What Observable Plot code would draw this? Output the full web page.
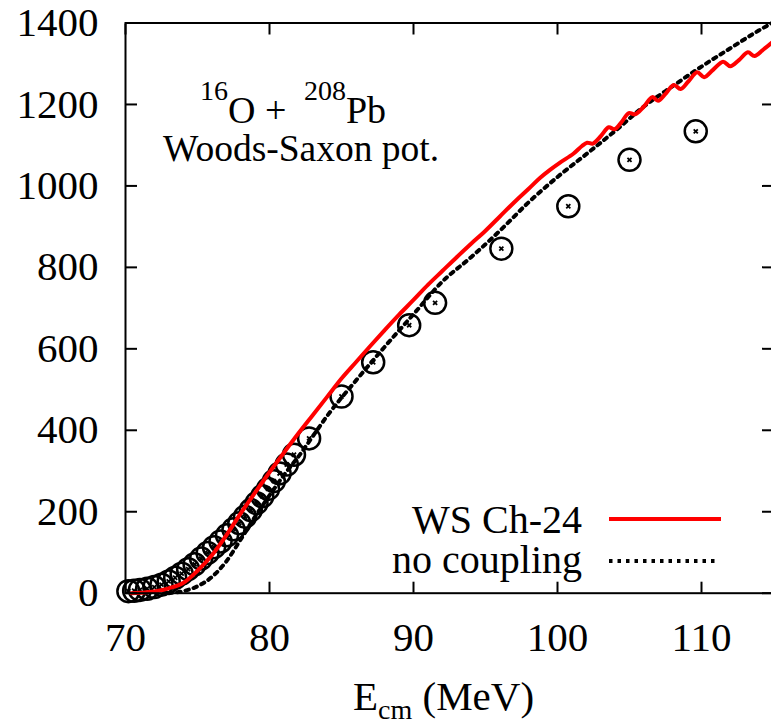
<!DOCTYPE html>
<html><head><meta charset="utf-8">
<script src="https://cdn.jsdelivr.net/npm/d3@7"></script>
<script src="https://cdn.jsdelivr.net/npm/@observablehq/plot@0.6"></script>
<style>html,body{margin:0;padding:0;background:#fff;overflow:hidden}</style>
</head><body><div id="chart"></div>
<script>
// ---- data ----
const xTicks = [70, 80, 90, 100, 110];
const yTicks = [0, 200, 400, 600, 800, 1000, 1200, 1400];

// experimental points (E_cm in MeV, cross section)
const expE = [70.2, 70.6, 71.0, 71.5, 72.0, 72.5, 73.0, 73.45, 73.9, 74.35, 74.8, 75.25, 75.7, 76.15, 76.6, 77.05, 77.5, 77.9, 78.3, 78.7, 79.1, 79.5, 79.9, 80.3, 80.7, 81.2, 81.7, 82.75, 85.0, 87.2, 89.7, 91.5, 96.1, 100.75, 105.0, 109.6];
const expSigma = [5, 6, 8, 11, 15, 21, 29, 38, 48, 59, 71, 85, 99, 113, 127, 142, 157, 172, 188, 204, 221, 238, 256, 275, 294, 316, 340, 380, 483, 567, 658, 713, 846, 950, 1064, 1134];

// WS Ch-24 calculation
const wsE = [70.4, 71, 72, 73, 74, 75, 76, 77, 78, 79, 80, 81, 82, 83, 84, 85, 86, 87, 88, 89, 90, 91, 92, 93, 94, 95, 96, 97, 98, 98.8, 99.5, 100.2, 101.1, 101.7, 102.06, 102.45, 103.0, 103.56, 103.95, 104.45, 104.95, 105.4, 106.0, 106.58, 106.98, 107.5, 108.08, 108.55, 109.1, 109.7, 110.18, 110.8, 111.5, 112.0, 112.6, 113.22, 113.68, 114.3, 115];
const wsSigma = [0, 1, 4, 12, 25, 55, 93, 142, 196, 247, 297, 345, 392, 437, 482, 527, 567, 607, 646, 684, 720, 757, 791, 825, 858, 890, 925, 960, 993, 1020, 1040, 1058, 1079, 1098, 1106, 1104, 1122, 1144, 1139, 1157, 1179, 1176, 1195, 1218, 1209, 1226, 1248, 1238, 1257, 1279, 1267, 1285, 1305, 1294, 1309, 1328, 1319, 1335, 1355];

// no coupling calculation
const ncE = [73.0, 74, 75, 76, 77, 78, 79, 80, 81, 82, 83, 84, 86, 88, 90, 92, 94, 96, 98, 100, 102, 104, 106, 108, 110, 112, 114, 115];
const ncSigma = [0, 5, 17, 40, 78, 132, 188, 240, 290, 335, 385, 435, 522, 605, 685, 765, 825, 890, 960, 1022, 1078, 1135, 1195, 1245, 1293, 1338, 1382, 1402];

const legendLabels = ["WS Ch-24", "no coupling"];
const xLabel = ["E", "cm", " (MeV)"];
const annotation = ["16", "O + ", "208", "Pb"];
const annotation2 = "Woods-Saxon pot.";

// ---- tables ----
const exp = expE.map((e, i) => ({E: e, s: expSigma[i]}));
const ws = wsE.map((e, i) => ({E: e, s: wsSigma[i]}));
const nc = ncE.map((e, i) => ({E: e, s: ncSigma[i]}));

const FONT = "'Liberation Serif', 'Times New Roman', serif";

const chart = Plot.plot({
  width: 771,
  height: 724,
  marginLeft: 125,
  marginRight: -2,
  marginTop: 22.5,
  marginBottom: 131.3,
  style: {fontFamily: FONT, fontSize: "41px", background: "#fff", color: "#000", overflow: "hidden"},
  x: {domain: [70, 115]},
  y: {domain: [0, 1400]},
  marks: [
    Plot.dot(exp, {x: "E", y: "s", r: 11, stroke: "#000", strokeWidth: 2.5, fill: "none"}),
    Plot.dot(exp, {x: "E", y: "s", r: 2, symbol: "times", stroke: "#000", strokeWidth: 1.8}),
    Plot.line(nc, {x: "E", y: "s", stroke: "#000", strokeWidth: 4, strokeDasharray: "3.5,5", curve: "monotone-x"}),
    Plot.line(ws, {x: "E", y: "s", stroke: "#ff0000", strokeWidth: 4, curve: "catmull-rom"}),
    Plot.frame({stroke: "#000", strokeWidth: 2}),
    // inward ticks on all sides
    Plot.axisX({anchor: "bottom", ticks: xTicks, tickSize: -11, fill: "none", stroke: "#000", strokeWidth: 2, label: null}),
    Plot.axisX({anchor: "top", ticks: xTicks, tickSize: -11, fill: "none", stroke: "#000", strokeWidth: 2, label: null}),
    Plot.axisY({anchor: "left", ticks: yTicks, tickSize: -12, fill: "none", stroke: "#000", strokeWidth: 2, label: null}),
    Plot.axisY({anchor: "right", ticks: yTicks, tickSize: -12, fill: "none", stroke: "#000", strokeWidth: 2, label: null}),
    // tick labels
    Plot.axisX({anchor: "bottom", ticks: xTicks, tickSize: 0, tickPadding: 29, fill: "#000", label: null, tickFormat: d => String(d)}),
    Plot.axisY({anchor: "left", ticks: yTicks, tickSize: 0, tickPadding: 27, fill: "#000", label: null, tickFormat: d => String(d)})
  ]
});

document.getElementById("chart").appendChild(chart);

// ---- text annotations, axis label and legend ----
const s = d3.select(chart);
const g = s.append("g").attr("font-family", FONT).attr("fill", "#000").attr("text-anchor", "start");

const t1 = g.append("text").attr("x", 200).attr("y", 123).attr("font-size", 38).attr("text-anchor", "start");
t1.append("tspan").attr("font-size", 28).attr("dy", -23).text(annotation[0]);
t1.append("tspan").attr("dy", 23).text(annotation[1]);
t1.append("tspan").attr("font-size", 28).attr("dy", -23).attr("dx", 8).text(annotation[2]);
t1.append("tspan").attr("dy", 23).text(annotation[3]);

g.append("text").attr("x", 163).attr("y", 161).attr("font-size", 37.5).attr("text-anchor", "start").text(annotation2);

const xl = g.append("text").attr("x", 353).attr("y", 710).attr("font-size", 41).attr("text-anchor", "start");
xl.append("tspan").text(xLabel[0]);
xl.append("tspan").attr("font-size", 28).attr("dy", 9).text(xLabel[1]);
xl.append("tspan").attr("dy", -9).text(xLabel[2]);

g.append("text").attr("x", 582).attr("y", 533).attr("font-size", 40).attr("text-anchor", "end").text(legendLabels[0]);
g.append("text").attr("x", 582).attr("y", 573).attr("font-size", 40).attr("text-anchor", "end").text(legendLabels[1]);
g.append("line").attr("x1", 609).attr("x2", 721).attr("y1", 519).attr("y2", 519).attr("stroke", "#ff0000").attr("stroke-width", 4);
g.append("line").attr("x1", 609).attr("x2", 717).attr("y1", 561).attr("y2", 561).attr("stroke", "#000").attr("stroke-width", 4).attr("stroke-dasharray", "3.5,5");
</script>
</body></html>
